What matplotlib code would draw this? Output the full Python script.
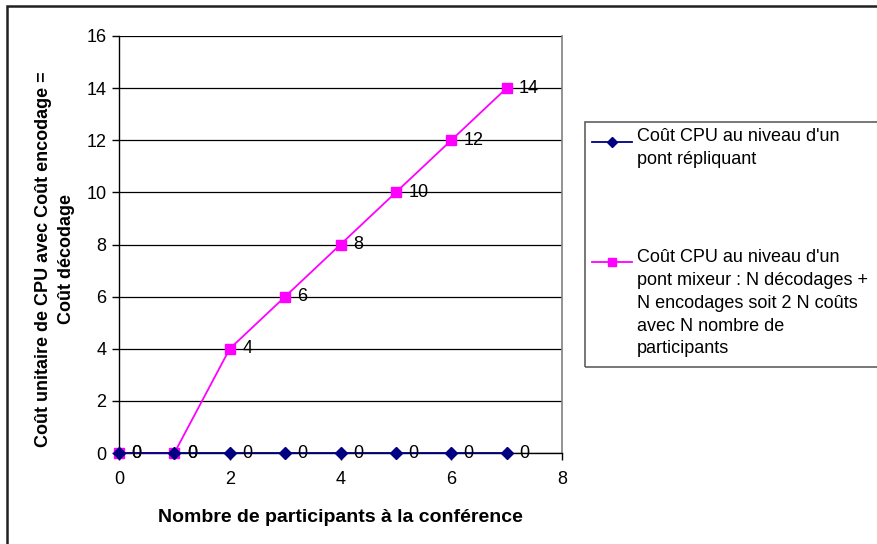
import matplotlib
matplotlib.use("Agg")
import matplotlib.pyplot as plt
from matplotlib.patches import Rectangle
from matplotlib.lines import Line2D

plt.rcParams['font.family'] = ['Liberation Sans', 'DejaVu Sans']

participants = [0, 1, 2, 3, 4, 5, 6, 7]
cout_repliquant = [0, 0, 0, 0, 0, 0, 0, 0]
cout_mixeur = [0, 0, 4, 6, 8, 10, 12, 14]
label_repliquant = "Coût CPU au niveau d'un\npont répliquant"
label_mixeur = ("Coût CPU au niveau d'un\npont mixeur : N décodages +\n"
                "N encodages soit 2 N coûts\navec N nombre de\nparticipants")
x_ticks = [0, 2, 4, 6, 8]
y_ticks = [0, 2, 4, 6, 8, 10, 12, 14, 16]

W, H = 878, 544
fig = plt.figure(figsize=(W / 100, H / 100), dpi=100)

def fx(px):
    return px / W

def fy(py):
    return 1 - py / H

ax = fig.add_axes([fx(119), fy(453), fx(562) - fx(119), fy(36) - fy(453)])

navy = '#000080'
magenta = '#FF00FF'

ax.plot(participants, cout_repliquant, color=navy, marker='D', markersize=6,
        linewidth=1.3, zorder=4, clip_on=False)
ax.plot(participants, cout_mixeur, color=magenta, marker='s', markersize=7,
        linewidth=1.3, zorder=3, clip_on=False)

for xs, ys in [(participants, cout_mixeur), (participants, cout_repliquant)]:
    for x, y in zip(xs, ys):
        ax.annotate(str(y), (x, y), xytext=(9, 0), textcoords='offset points',
                    va='center', ha='left', fontsize=13, color='black', zorder=5)

ax.set_xlim(0, 8)
ax.set_ylim(0, 16)
ax.set_xticks(x_ticks)
ax.set_yticks(y_ticks)
ax.tick_params(axis='both', labelsize=13, direction='out', length=5, width=1, color='black')
ax.tick_params(axis='x', pad=8)
ax.tick_params(axis='y', pad=4)
ax.grid(axis='y', color='black', linewidth=0.9)
ax.set_axisbelow(True)
for s in ['left', 'bottom']:
    ax.spines[s].set_color('black')
    ax.spines[s].set_linewidth(1)
ax.spines['top'].set_visible(False)
ax.spines['right'].set_color('#808080')
ax.spines['right'].set_linewidth(1.2)

fig.text(fx(340), fy(517), 'Nombre de participants à la conférence', fontsize=14,
         fontweight='bold', ha='center', va='center')
fig.text(fx(55), fy(259), 'Coût unitaire de CPU avec Coût encodage =\nCoût décodage',
         fontsize=13, fontweight='bold', rotation=90, ha='center', va='center',
         multialignment='center', linespacing=1.45)

# legend box
fig.patches.append(Rectangle((fx(585), fy(367)), fx(880) - fx(585), fy(122) - fy(367),
                             transform=fig.transFigure, fill=False, edgecolor='#606060',
                             linewidth=1.2))
fig.lines.append(Line2D([fx(592), fx(632)], [fy(142), fy(142)], transform=fig.transFigure,
                        color=navy, linewidth=1.3))
fig.lines.append(Line2D([fx(612)], [fy(142)], transform=fig.transFigure,
                        color=navy, marker='D', markersize=5, linestyle='none'))
fig.lines.append(Line2D([fx(592), fx(632)], [fy(262), fy(262)], transform=fig.transFigure,
                        color=magenta, linewidth=1.3))
fig.lines.append(Line2D([fx(612)], [fy(262)], transform=fig.transFigure,
                        color=magenta, marker='s', markersize=6, linestyle='none'))
fig.text(fx(637), fy(128), label_repliquant, fontsize=13, va='top', ha='left', linespacing=1.45)
fig.text(fx(637), fy(249), label_mixeur, fontsize=13, va='top', ha='left', linespacing=1.45)

# outer border
fig.patches.append(Rectangle((fx(7), fy(560)), fx(900) - fx(7), fy(6) - fy(560),
                             transform=fig.transFigure, fill=False, edgecolor='#202020',
                             linewidth=1.8))

fig.savefig('out.png', dpi=100)
